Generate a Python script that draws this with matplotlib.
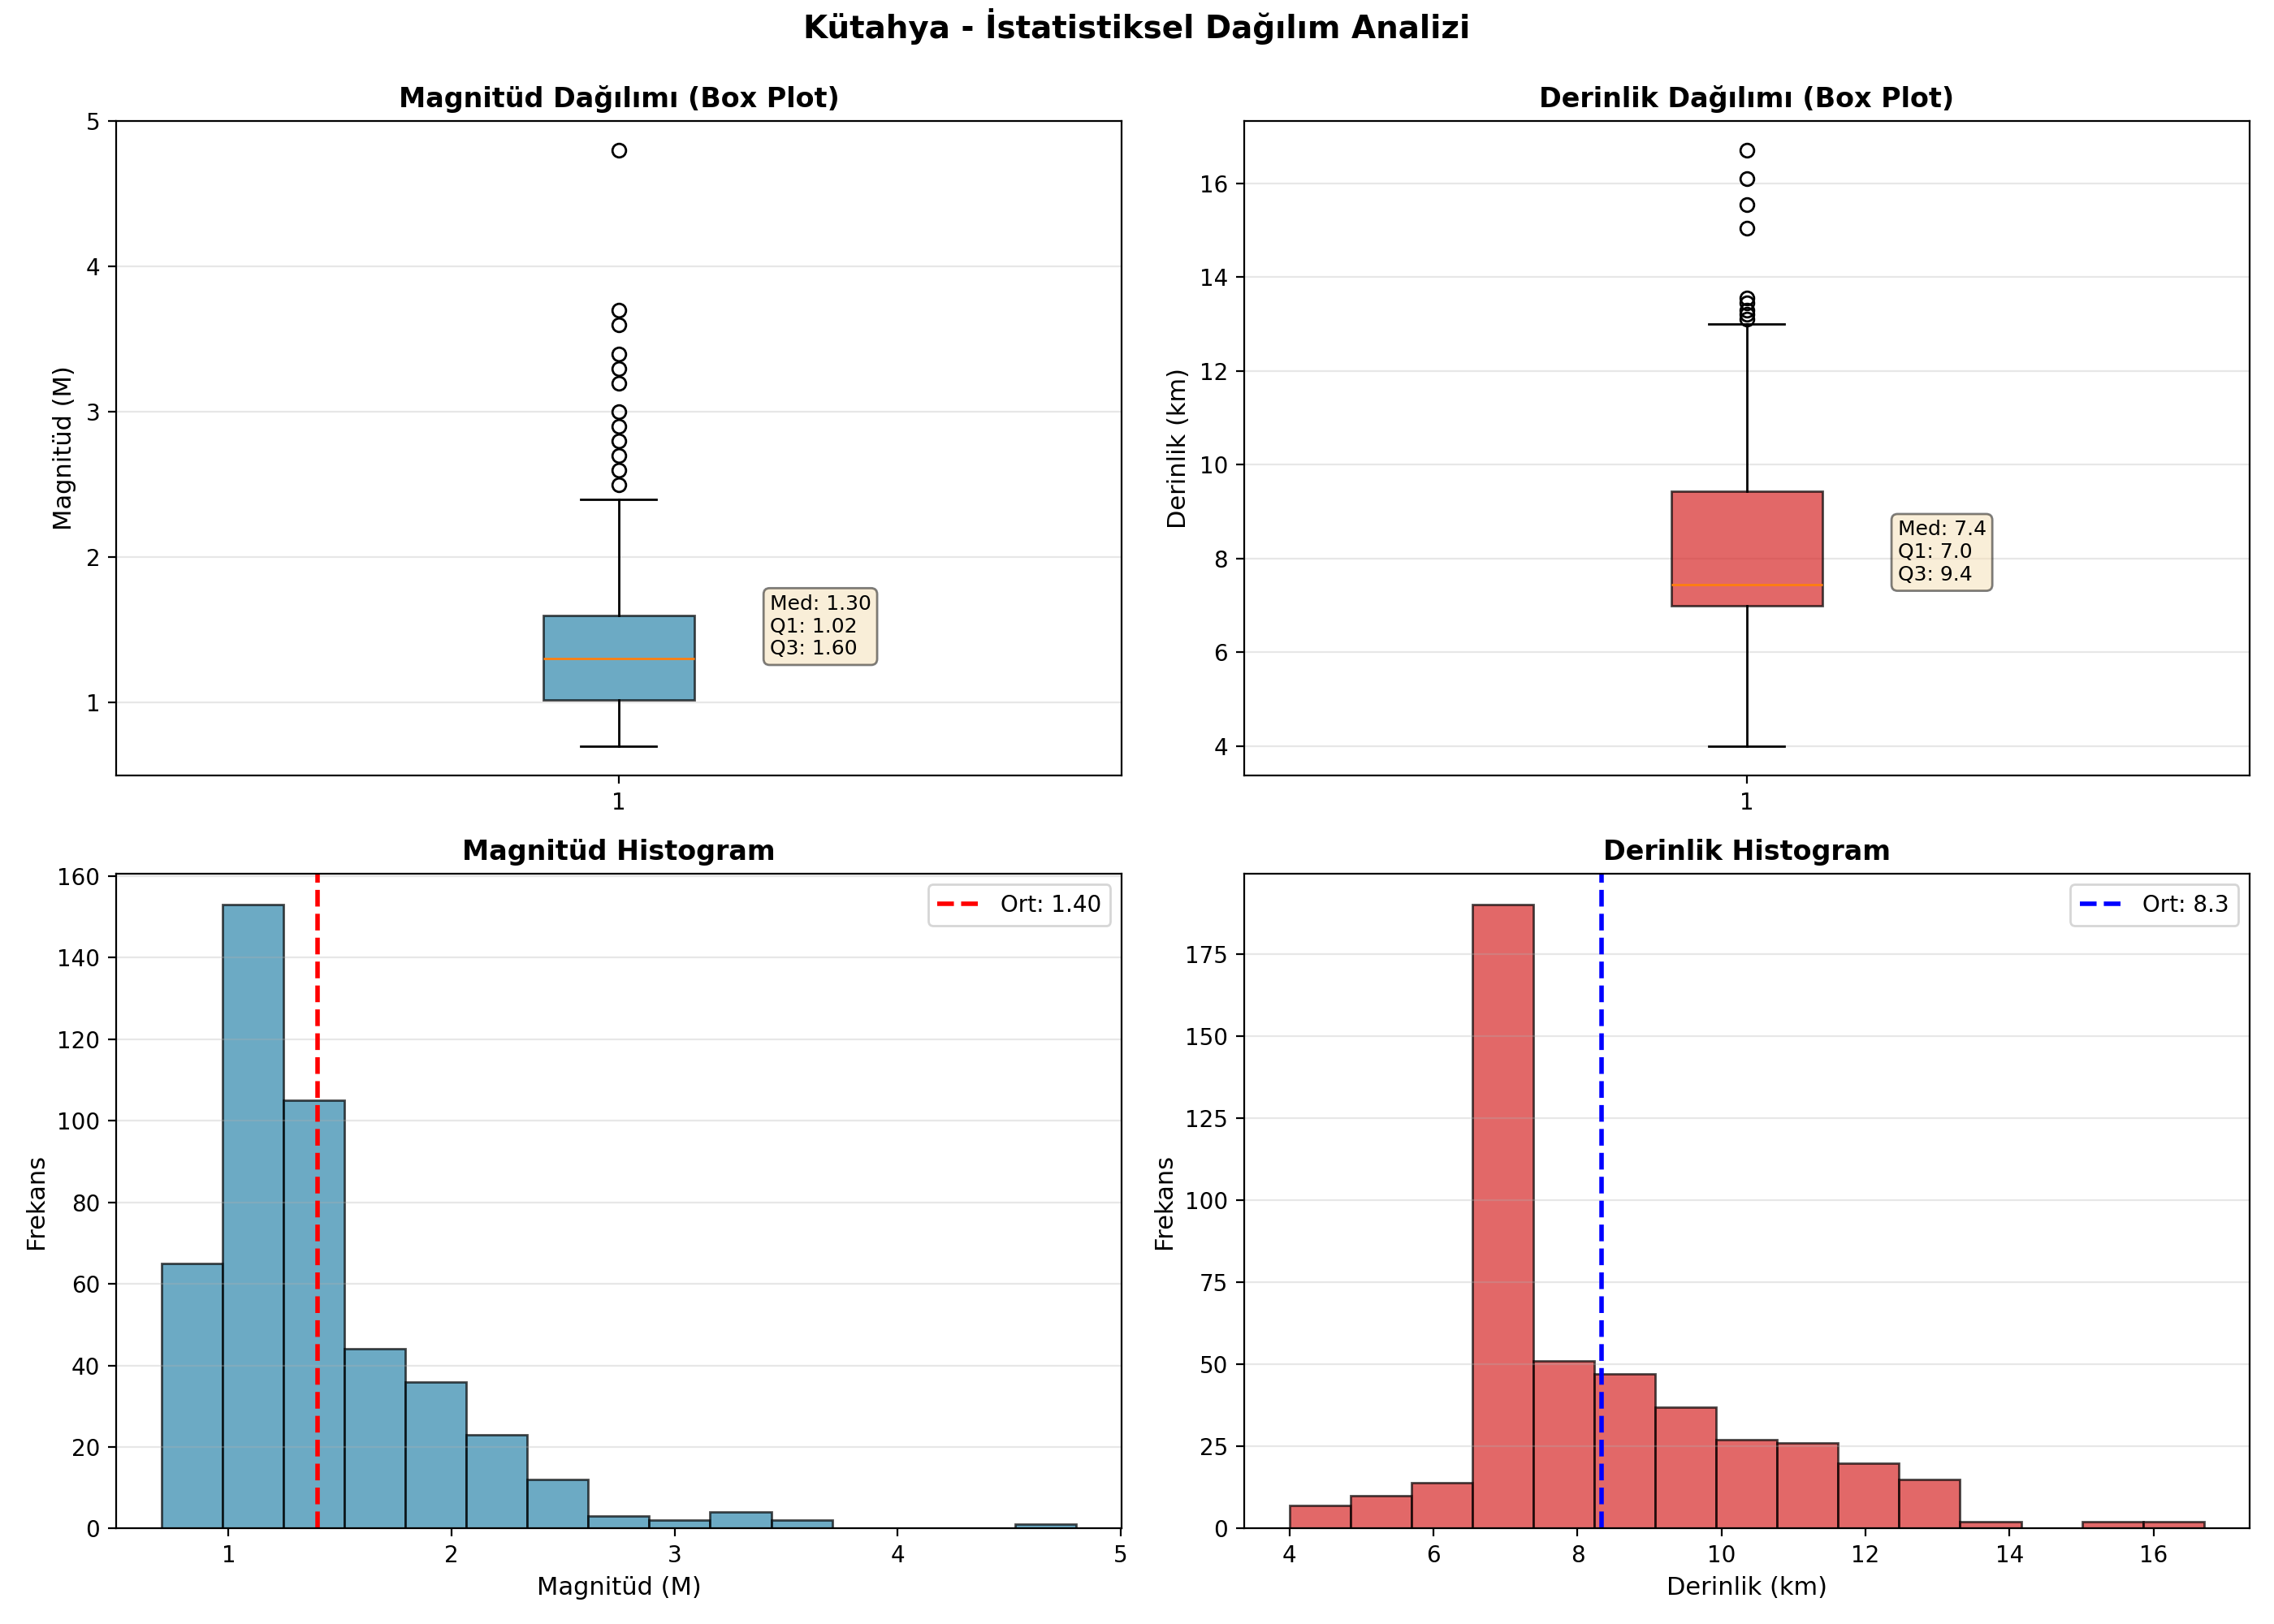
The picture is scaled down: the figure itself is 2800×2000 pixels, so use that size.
import matplotlib

matplotlib.use("Agg")
import matplotlib.pyplot as plt
import numpy as np

# Box plot summaries
mag_q1, mag_med, mag_q3 = 1.02, 1.30, 1.60
mag_whislo, mag_whishi = 0.7, 2.4
mag_fliers = [4.8, 3.7, 3.6, 3.4, 3.3, 3.2, 3.0, 2.9, 2.8, 2.7, 2.6, 2.5]

dep_q1, dep_med, dep_q3 = 7.0, 7.44, 9.43
dep_whislo, dep_whishi = 4.0, 13.0
dep_fliers = [16.7, 16.1, 15.55, 15.05, 13.55, 13.45, 13.3, 13.2, 13.1]

# Histograms: 15 bins each
mag_edges = np.linspace(0.7, 4.8, 16)
mag_counts = [65, 153, 105, 44, 36, 23, 12, 3, 2, 4, 2, 0, 0, 0, 1]
mag_mean = 1.40

dep_edges = np.linspace(4.0, 16.7, 16)
dep_counts = [7, 10, 14, 190, 51, 47, 37, 27, 26, 20, 15, 2, 0, 2, 2]
dep_mean = 8.33

mag_color = "#2E86AB"
dep_color = "#D62828"

fig, axes = plt.subplots(2, 2, figsize=(14, 10), dpi=200)
st = fig.suptitle("Kütahya - İstatistiksel Dağılım Analizi", fontsize=14, fontweight="bold")


def draw_box(ax, stats, color, label_fmt):
    q1, med, q3, lo, hi, fliers = stats
    bp = ax.bxp(
        [dict(med=med, q1=q1, q3=q3, whislo=lo, whishi=hi, fliers=fliers)],
        patch_artist=True,
    )
    for box in bp["boxes"]:
        box.set_facecolor(color)
        box.set_alpha(0.7)
    ax.grid(True, axis="y", alpha=0.3)
    txt = f"Med: {med:{label_fmt}}\nQ1: {q1:{label_fmt}}\nQ3: {q3:{label_fmt}}"
    ax.text(
        1.15,
        med,
        txt,
        fontsize=9,
        va="bottom",
        bbox=dict(boxstyle="round", facecolor="wheat", alpha=0.5),
    )


ax = axes[0, 0]
draw_box(ax, (mag_q1, mag_med, mag_q3, mag_whislo, mag_whishi, mag_fliers), mag_color, ".2f")
ax.set_title("Magnitüd Dağılımı (Box Plot)", fontsize=12, fontweight="bold")
ax.set_ylabel("Magnitüd (M)", fontsize=11)

ax = axes[0, 1]
draw_box(ax, (dep_q1, dep_med, dep_q3, dep_whislo, dep_whishi, dep_fliers), dep_color, ".1f")
ax.set_title("Derinlik Dağılımı (Box Plot)", fontsize=12, fontweight="bold")
ax.set_ylabel("Derinlik (km)", fontsize=11)

ax = axes[1, 0]
ax.hist(mag_edges[:-1], bins=mag_edges, weights=mag_counts, color=mag_color,
        alpha=0.7, edgecolor="black")
ax.axvline(mag_mean, color="red", linestyle="--", linewidth=2, label=f"Ort: {mag_mean:.2f}")
ax.set_title("Magnitüd Histogram", fontsize=12, fontweight="bold")
ax.set_xlabel("Magnitüd (M)", fontsize=11)
ax.set_ylabel("Frekans", fontsize=11)
ax.legend(loc="upper right")
ax.grid(True, axis="y", alpha=0.3)

ax = axes[1, 1]
ax.hist(dep_edges[:-1], bins=dep_edges, weights=dep_counts, color=dep_color,
        alpha=0.7, edgecolor="black")
ax.axvline(dep_mean, color="blue", linestyle="--", linewidth=2, label=f"Ort: {dep_mean:.1f}")
ax.set_title("Derinlik Histogram", fontsize=12, fontweight="bold")
ax.set_xlabel("Derinlik (km)", fontsize=11)
ax.set_ylabel("Frekans", fontsize=11)
ax.legend(loc="upper right")
ax.grid(True, axis="y", alpha=0.3)

plt.tight_layout()
st.set_y(0.995)  # title sits higher than tight_layout puts it
plt.savefig("out.png", dpi=200)
